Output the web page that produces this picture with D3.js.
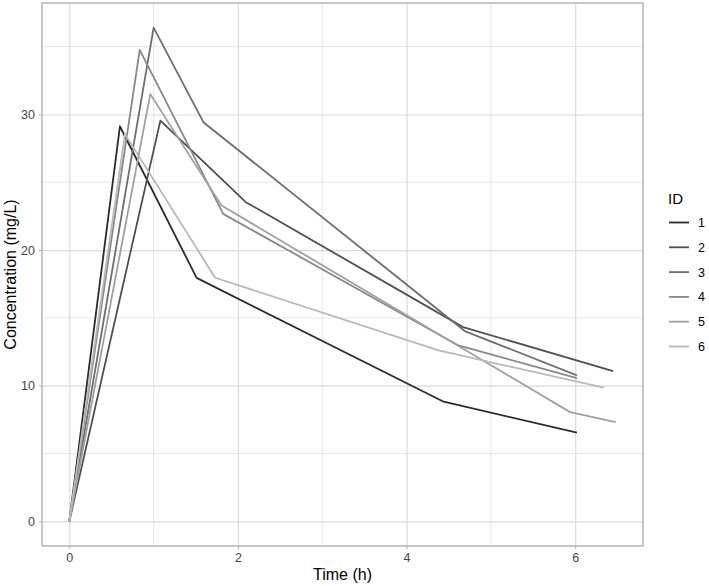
<!DOCTYPE html>
<html>
<head>
<meta charset="utf-8">
<script src="https://cdn.jsdelivr.net/npm/d3@7"></script>
<style>
  body { margin: 0; background: #fff; }
  svg { font-family: "Liberation Sans", Arial, sans-serif; }
</style>
</head>
<body>
<div id="chart"></div>
<script>
// subject ids and their sampling times / concentrations
var ids = ["1", "2", "3", "4", "5", "6"];
var times = [
    [0, 0.60, 1.51, 4.44, 6.02],
    [0, 1.08, 2.09, 4.67, 6.45],
    [0, 1.00, 1.59, 4.69, 6.02],
    [0, 0.835, 1.825, 4.615, 6.02],
    [0, 0.96, 1.805, 5.94, 6.48],
    [0, 0.66, 1.73, 4.38, 6.34]
];
var concs = [
    [0, 29.13, 17.95, 8.82, 6.54],
    [0, 29.55, 23.55, 14.32, 11.08],
    [0, 36.40, 29.43, 14.03, 10.76],
    [0, 34.76, 22.67, 12.97, 10.56],
    [0, 31.50, 23.29, 8.05, 7.32],
    [0, 28.55, 17.96, 12.60, 9.85]
];
var xTicks = [0, 2, 4, 6];
var yTicks = [0, 10, 20, 30];
var xMinor = [1, 3, 5];
var yMinor = [5, 15, 25, 35];
var greys = ["#2b2b2b", "#505050", "#6e6e6e", "#888888", "#a0a0a0", "#b8b8b8"];

var w = 709, h = 586;
var margin = {top: 3, right: 66, bottom: 40, left: 42};

var svg = d3.select("#chart").append("svg")
    .attr("width", w)
    .attr("height", h);

// build series
var series = ids.map(function(id, i) {
    return {id: id, values: times[i].map(function(t, j) { return {t: t, c: concs[i][j]}; })};
});

var allT = d3.merge(times), allC = d3.merge(concs);
var tExt = d3.extent(allT), cExt = d3.extent(allC);
var tPad = 0.05 * (tExt[1] - tExt[0]), cPad = 0.05 * (cExt[1] - cExt[0]);

var xScale = d3.scaleLinear()
    .domain([tExt[0] - tPad, tExt[1] + tPad])
    .range([margin.left, w - margin.right]);
var yScale = d3.scaleLinear()
    .domain([cExt[0] - cPad, cExt[1] + cPad])
    .range([h - margin.bottom, margin.top]);

var pw = w - margin.right - margin.left;
var ph = h - margin.bottom - margin.top;

// grid lines (minor then major)
svg.append("g").selectAll("line.vminor").data(xMinor).enter().append("line")
    .attr("x1", d => xScale(d)).attr("x2", d => xScale(d))
    .attr("y1", margin.top).attr("y2", h - margin.bottom)
    .style("stroke", "#e3e3e3").style("stroke-width", 0.9);
svg.append("g").selectAll("line.hminor").data(yMinor).enter().append("line")
    .attr("x1", margin.left).attr("x2", w - margin.right)
    .attr("y1", d => yScale(d)).attr("y2", d => yScale(d))
    .style("stroke", "#e3e3e3").style("stroke-width", 0.9);

var gridX = svg.append("g")
    .attr("class", "grid")
    .attr("transform", `translate(0,${h - margin.bottom})`)
    .call(d3.axisBottom(xScale).tickValues(xTicks).tickSize(-ph).tickFormat(""));
var gridY = svg.append("g")
    .attr("class", "grid")
    .attr("transform", `translate(${margin.left},0)`)
    .call(d3.axisLeft(yScale).tickValues(yTicks).tickSize(-pw).tickFormat(""));
svg.selectAll(".grid line").style("stroke", "#dadada").style("stroke-width", 1.2);
svg.selectAll(".grid .domain").remove();

// lines
var line = d3.line()
    .x(d => xScale(d.t))
    .y(d => yScale(d.c));

svg.selectAll(".line")
    .data(series)
    .enter()
    .append("path")
    .attr("class", "line")
    .attr("d", d => line(d.values))
    .style("fill", "none")
    .style("stroke", (d, i) => greys[i])
    .style("stroke-width", 1.8)
    .style("stroke-linejoin", "round");

// panel border
svg.append("rect")
    .attr("x", margin.left)
    .attr("y", margin.top)
    .attr("width", pw)
    .attr("height", ph)
    .style("fill", "none")
    .style("stroke", "#b0b0b0")
    .style("stroke-width", 1.4);

// axes
var xAxis = svg.append("g")
    .attr("transform", `translate(0,${h - margin.bottom})`)
    .call(d3.axisBottom(xScale).tickValues(xTicks).tickSize(3).tickPadding(4));
var yAxis = svg.append("g")
    .attr("transform", `translate(${margin.left},0)`)
    .call(d3.axisLeft(yScale).tickValues(yTicks).tickSize(3).tickPadding(4));
xAxis.select(".domain").remove();
yAxis.select(".domain").remove();
svg.selectAll(".tick line").filter(function() { return !this.closest(".grid"); })
    .style("stroke", "#b0b0b0");
xAxis.selectAll("text").style("font-size", "12.5px").style("fill", "#444")
    .style("font-family", "Liberation Sans, Arial, sans-serif");
yAxis.selectAll("text").style("font-size", "12.5px").style("fill", "#444")
    .style("font-family", "Liberation Sans, Arial, sans-serif");

// axis titles
svg.append("text")
    .attr("x", margin.left + pw / 2)
    .attr("y", h - 6)
    .attr("text-anchor", "middle")
    .style("font-size", "16px")
    .style("fill", "#000")
    .text("Time (h)");

svg.append("text")
    .attr("transform", "rotate(-90)")
    .attr("x", -(margin.top + ph / 2))
    .attr("y", 16)
    .attr("text-anchor", "middle")
    .style("font-size", "16px")
    .style("fill", "#000")
    .text("Concentration (mg/L)");

// legend
var legend = svg.append("g")
    .attr("class", "legend")
    .attr("transform", "translate(668, 0)");

legend.append("text")
    .attr("x", 0)
    .attr("y", 204)
    .style("font-size", "15px")
    .style("fill", "#000")
    .text("ID");

var legendItem = legend.selectAll(".legend-item")
    .data(ids)
    .enter().append("g")
    .attr("class", "legend-item")
    .attr("transform", (d, i) => `translate(0, ${222.5 + i * 24.8})`);

legendItem.append("line")
    .attr("x1", 1).attr("x2", 21)
    .attr("y1", 0).attr("y2", 0)
    .style("stroke", (d, i) => greys[i])
    .style("stroke-width", 1.8);

legendItem.append("text")
    .attr("x", 30)
    .attr("y", 0)
    .attr("dy", "0.36em")
    .style("font-size", "12.5px")
    .style("fill", "#000")
    .text(d => d);
</script>
</body>
</html>
